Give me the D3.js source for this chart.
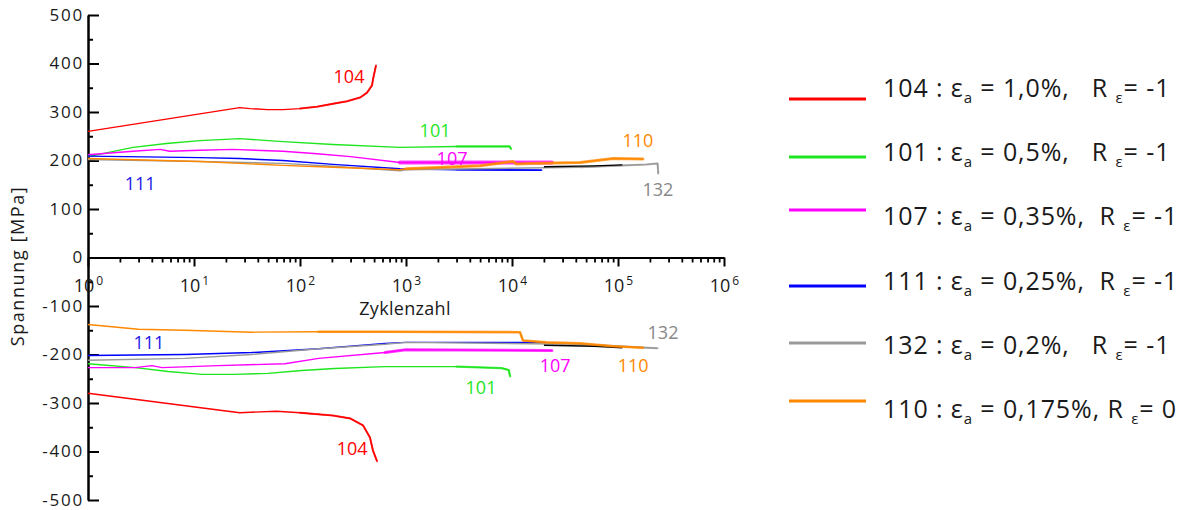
<!DOCTYPE html>
<html>
<head>
<meta charset="utf-8">
<script src="https://cdn.jsdelivr.net/npm/d3@7"></script>
<style>
  body { margin: 0; background: #fff; }
  svg text { font-family: "Open Sans", sans-serif; fill: #1a1a1a; white-space: pre; }
</style>
</head>
<body>
<svg id="chart" width="1185" height="510"></svg>
<script>
// ---- data: stress maxima (upper branch) and minima (lower branch) vs. cycle count ----
const specimenIds  = ["104", "101", "107", "111", "132", "110"];
const strainAmps   = ["1,0%", "0,5%", "0,35%", "0,25%", "0,2%", "0,175%"];
const strainRatios = ["-1", "-1", "-1", "-1", "-1", "0"];

const max104 = [[1,260],[27,309],[34,307],[49,305],[69,305],[100,307],[145,311],[205,317],[277,322],[370,330],[429,340],[478,355],[488,367],[521,396]];
const min104 = [[1,-280],[27,-320],[60,-317],[100,-320],[205,-326],[300,-332],[393,-346],[457,-371],[488,-398],[533,-420]];

const max101 = [[1,208],[2.66,227],[5.5,235],[11.4,241],[27,245],[69,239],[205,233],[877,227],[3000,229],[9500,229],[9800,224]];
const min101 = [[1,-219],[2.8,-227],[5.7,-235],[11.9,-241],[24,-241],[50,-239],[104,-233],[212,-229],[630,-225],[3000,-225],[8000,-228],[9300,-232],[9600,-245]];

const max107 = [[1,212],[2.66,219],[4.8,223],[5.9,219],[11.4,221],[23,223],[69,219],[145,214],[300,208],[877,196],[3000,196],[23800,196]];
const min107 = [[1,-227],[2.8,-227],[4,-223],[5,-227],[17,-223],[72,-219],[150,-208],[633,-196],[1000,-190],[23800,-192]];

const max111 = [[1,209],[11.4,206],[27,204],[69,200],[205,192],[877,183],[3000,181],[19000,180]];
const min111 = [[1,-202],[8.2,-200],[35,-196],[150,-188],[633,-177],[1000,-175],[21000,-175]];

const max132 = [[1,202],[11.4,198],[69,194],[205,188],[877,179],[1000,181],[44000,186],[187000,192],[236000,194],[240000,173]];
const min132 = [[1,-212],[8.2,-208],[35,-200],[150,-188],[633,-179],[1000,-175],[44000,-179],[236000,-187]];

const maxExtra = [[20000,187],[60000,189],[110000,191]];
const minExtra = [[20000,-181],[60000,-183],[110000,-186]];

const max110 = [[1,204],[11.4,198],[27,194],[69,190],[205,186],[877,181],[1000,183],[5000,189],[10200,198],[11000,193],[14800,194],[44000,196],[90000,204],[172000,203]];
const min110 = [[1,-138],[3,-148],[8.2,-150],[35,-154],[150,-153],[633,-153],[11900,-154],[12700,-171],[21000,-175],[44000,-177],[90000,-183],[172000,-186]];

// label anchor points in data coordinates [cycles, stress]
const labelsUpper = [[290,375],[1880,262],[2720,206],[3.1,153],[238000,142],[154000,243]];
const labelsLower = [[310,-392],[5100,-266],[25500,-221],[3.76,-175],[266000,-153],[139000,-221]];

const yMajorTicks = [-500,-400,-300,-200,-100,0,100,200,300,400,500];
const yMinorTicks = [-450,-350,-250,-150,-50,50,150,250,350,450];
const xMajorTicks = [1,1e1,1e2,1e3,1e4,1e5,1e6];

// ---- styling ----
const colors = ["#ff0000", "#1ee61e", "#ff00ff", "#0000ff", "#999999", "#ff8800"];
const labelColors = ["#ff0000", "#1ee61e", "#ff00ff", "#1a1ae6", "#888888", "#ff8800"];
const legendGaps = ["   ", "   ", "  ", "  ", "   ", " "];
const legendSwatchY = [99, 157, 210, 286, 343, 401];
// scatter band drawn over the noisy part of each record: [from cycles, width]
const noiseUpper = [[100, 2], [1000, 2.2], [600, 4], [3000, 1.8], [5000, 2], [1000, 3]];
const noiseLower = [[100, 2], [1000, 2.2], [400, 3], [3000, 1.8], [5000, 2], [100, 2.6]];

const svg = d3.select("#chart");

const x = d3.scaleLog().domain([1, 1e6]).range([88, 724]);
const y = d3.scaleLinear().domain([-500, 500]).range([500, 15]);

// ---- axes ----
const yAxis = svg.append("g").attr("transform", `translate(${x(1)},0)`);
yAxis.call(d3.axisLeft(y).tickValues(yMajorTicks).tickSizeInner(-11).tickSizeOuter(0).tickPadding(4).tickFormat(d => String(d)));
yAxis.select(".domain").attr("stroke", "#000").attr("stroke-width", 2.5);
yAxis.selectAll(".tick line").attr("stroke", "#000").attr("stroke-width", 2);
yAxis.selectAll(".tick text").attr("font-size", 17).attr("letter-spacing", 1.8).attr("fill", "#1a1a1a")
  .attr("font-family", "Open Sans, sans-serif");

const yMinor = svg.append("g").attr("transform", `translate(${x(1)},0)`);
yMinor.call(d3.axisLeft(y).tickValues(yMinorTicks).tickSizeInner(-5).tickSizeOuter(0).tickFormat(""));
yMinor.select(".domain").remove();
yMinor.selectAll(".tick line").attr("stroke", "#000").attr("stroke-width", 2);

const xMinorTicks = [];
for (let e = 0; e < 6; e++) for (let m = 2; m <= 9; m++) xMinorTicks.push(m * Math.pow(10, e));

const xAxis = svg.append("g").attr("transform", `translate(0,${y(0)})`);
xAxis.call(d3.axisBottom(x).tickValues(xMajorTicks).tickSizeInner(9).tickSizeOuter(0).tickPadding(13).tickFormat(""));
xAxis.select(".domain").attr("stroke", "#000").attr("stroke-width", 2.2);
xAxis.selectAll(".tick line").attr("stroke", "#000").attr("stroke-width", 2);
xAxis.selectAll(".tick text").each(function(d) {
  const t = d3.select(this).attr("font-size", 18).attr("fill", "#1a1a1a")
    .attr("font-family", "Open Sans, sans-serif").attr("text-anchor", "middle");
  t.append("tspan").text("10");
  t.append("tspan").attr("font-size", 12).attr("dy", "-0.6em").attr("dx", 2).text(Math.round(Math.log10(d)));
});

const xMinor = svg.append("g").attr("transform", `translate(0,${y(0)})`);
xMinor.call(d3.axisBottom(x).tickValues(xMinorTicks).tickSizeInner(5).tickSizeOuter(0).tickFormat(""));
xMinor.select(".domain").remove();
xMinor.selectAll(".tick line").attr("stroke", "#000").attr("stroke-width", 1.8);

// axis titles
svg.append("text").attr("x", 405).attr("y", 315).attr("text-anchor", "middle")
  .attr("font-size", 18).attr("letter-spacing", 0.3).text("Zyklenzahl");
svg.append("text").attr("transform", "translate(24,266) rotate(-90)").attr("text-anchor", "middle")
  .attr("font-size", 18).attr("letter-spacing", 1.6).text("Spannung [MPa]");

// ---- curves ----
const line = d3.line().x(d => x(d[0])).y(d => y(d[1]));
const upperSets = [max104, max101, max107, max111, max132, max110];
const lowerSets = [min104, min101, min107, min111, min132, min110];

const plot = svg.append("g");
function drawCurve(pts, color, noise) {
  plot.append("path").attr("d", line(pts)).attr("fill", "none")
    .attr("stroke", color).attr("stroke-width", 1.4).attr("stroke-linejoin", "round");
  if (noise) {
    const seg = pts.filter(p => p[0] >= noise[0]);
    if (seg.length > 1) {
      plot.append("path").attr("d", line(seg)).attr("fill", "none")
        .attr("stroke", color).attr("stroke-width", noise[1]).attr("stroke-opacity", 0.75)
        .attr("stroke-linejoin", "round").attr("stroke-linecap", "round");
    }
  }
}
// drawing order: first five records, unlabeled black trace, then 110 on top
[0, 1, 2, 3, 4].forEach(i => {
  drawCurve(upperSets[i], colors[i], noiseUpper[i]);
  drawCurve(lowerSets[i], colors[i], noiseLower[i]);
});
drawCurve(maxExtra, "#000", null);
drawCurve(minExtra, "#000", null);
drawCurve(upperSets[5], colors[5], noiseUpper[5]);
drawCurve(lowerSets[5], colors[5], noiseLower[5]);

// curve labels
specimenIds.forEach((id, i) => {
  [labelsUpper[i], labelsLower[i]].forEach(p => {
    svg.append("text").attr("x", x(p[0])).attr("y", y(p[1]))
      .attr("text-anchor", "middle").attr("dominant-baseline", "central")
      .attr("font-size", 18).style("fill", labelColors[i]).text(id);
  });
});

// ---- legend ----
const legend = svg.append("g");
specimenIds.forEach((id, i) => {
  legend.append("line").attr("x1", 789).attr("x2", 866)
    .attr("y1", legendSwatchY[i]).attr("y2", legendSwatchY[i])
    .attr("stroke", colors[i]).attr("stroke-width", 3);
  const t = legend.append("text").attr("x", 883).attr("y", 97 + i * 64.2)
    .attr("font-size", 25).attr("letter-spacing", 0.9).attr("xml:space", "preserve");
  t.append("tspan").text(`${id} : ε`);
  t.append("tspan").attr("font-size", 15).attr("dy", 6).text("a");
  t.append("tspan").attr("dy", -6).text(` = ${strainAmps[i]},${legendGaps[i]}R `);
  t.append("tspan").attr("font-size", 15).attr("dy", 6).text("ε");
  t.append("tspan").attr("dy", -6).text(`= ${strainRatios[i]}`);
});
</script>
</body>
</html>
